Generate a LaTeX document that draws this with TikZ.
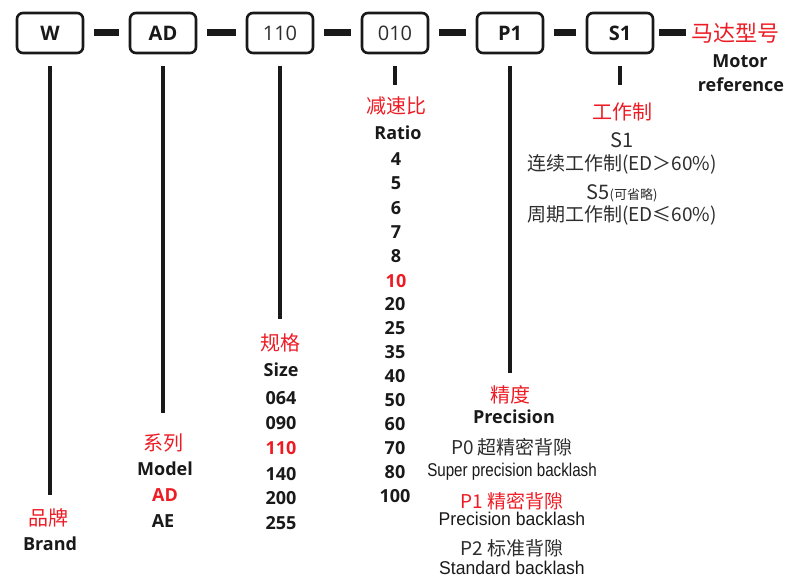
\documentclass[tikz,border=0pt]{standalone}
\usepackage{fontspec}
\setmainfont{Open Sans}
\newfontfamily\cjk{Noto Sans CJK SC}
\newfontfamily\narrow[FakeStretch=0.82]{Liberation Sans}
\newfontfamily\narrowb[FakeStretch=0.95]{Liberation Sans}
\definecolor{myred}{RGB}{237,28,36}
\definecolor{ink}{RGB}{25,25,25}
\definecolor{gr}{RGB}{45,45,45}
\begin{document}
\begin{tikzpicture}[x=1pt,y=-1pt,
  box/.style={draw=ink,line width=2.6pt,rounded corners=6pt,minimum width=66pt,minimum height=40pt,inner sep=0pt},
  bb/.style={font=\bfseries\fontsize{20}{20}\selectfont,text=ink},
  bn/.style={font=\fontsize{20}{20}\selectfont,text=gr},
  conn/.style={draw=ink,line width=7pt,shorten <=10pt,shorten >=10pt},
  vline/.style={draw=ink,line width=3.6pt},
  cn/.style={font=\cjk\fontsize{20}{20}\selectfont,text=myred,inner sep=0pt,anchor=base},
  lb/.style={font=\bfseries\fontsize{18}{18}\selectfont,text=ink,inner sep=0pt,anchor=base},
  lr/.style={lb,text=myred},
  gt/.style={font=\cjk\fontsize{19}{19}\selectfont,text=gr,inner sep=0pt,anchor=base},
  nt/.style={font=\narrow\fontsize{18.5}{18.5}\selectfont,text=ink,inner sep=0pt,anchor=base},
  ntb/.style={font=\narrowb\fontsize{18.5}{18.5}\selectfont,text=ink,inner sep=0pt,anchor=base},
  ]
\useasboundingbox (0,0) rectangle (786,578);
% boxes
\node[box,bb] (w) at (50,33) {W};
\node[box,bb] (ad) at (163,33) {AD};
\node[box,bn] (sz) at (280,33) {110};
\node[box,bn] (rt) at (395,33) {010};
\node[box,bb] (p1) at (510,33) {P1};
\node[box,bb] (s1) at (620,33) {S1};
\node[font=\cjk\fontsize{22}{22}\selectfont,text=myred,inner sep=0pt,anchor=west] (mt) at (691,33) {马达型号};
\draw[conn] (w) -- (ad);
\draw[conn] (ad) -- (sz);
\draw[conn] (sz) -- (rt);
\draw[conn] (rt) -- (p1);
\draw[conn] (p1) -- (s1);
\draw[conn,shorten >=5pt,shorten <=5pt] (s1) -- (mt);
\node[lb] (mt1) at (740,67) {Motor};
\node[lb] (mt2) at (741,91) {reference};
% brand
\node[cn] (brc) at (48,525.6) {品牌};
\node[lb] (bre) at (50,550.5) {Brand};
\draw[vline] ([yshift=-12pt]w.south) -- ([yshift=30.6pt]w.south |- brc.base);
% model
\node[cn] (moc) at (163,450.6) {系列};
\node[lb] (moe) at (165,475.5) {Model};
\node[lr] (mo1) at (165,501.5) {AD};
\node[lb] (mo2) at (163,527.5) {AE};
\draw[vline] ([yshift=-12pt]ad.south) -- ([yshift=37.6pt]ad.south |- moc.base);
% size
\node[cn] (szc) at (280,350.6) {规格};
\node[lb] (sze) at (281,376.5) {Size};
\node[lb] (s064) at (281,404.5) {064};
\node[lb] (s090) at (281,429.5) {090};
\node[lr] (s110) at (281,454.5) {110};
\node[lb] (s140) at (281,480.5) {140};
\node[lb] (s200) at (281,504.5) {200};
\node[lb] (s255) at (281,529.5) {255};
\draw[vline] ([yshift=-12pt]sz.south) -- ([yshift=31.6pt]sz.south |- szc.base);
% ratio
\node[cn] (rtc) at (396,113.6) {减速比};
\node[lb] (rte) at (398,139.5) {Ratio};
\node[lb] (r4) at (396,165.5) {4};
\node[lb] (r5) at (396,189.5) {5};
\node[lb] (r6) at (396,214.5) {6};
\node[lb] (r7) at (396,238.5) {7};
\node[lb] (r8) at (396,262.5) {8};
\node[lr] (r10) at (396,287.5) {10};
\node[lb] (r20) at (395,310.5) {20};
\node[lb] (r25) at (395,334.5) {25};
\node[lb] (r35) at (395,358.5) {35};
\node[lb] (r40) at (395,382.5) {40};
\node[lb] (r50) at (395,406.5) {50};
\node[lb] (r60) at (395,430.5) {60};
\node[lb] (r70) at (395,454.5) {70};
\node[lb] (r80) at (395,478.5) {80};
\node[lb] (r100) at (395,502.5) {100};
\draw[vline] ([yshift=-12pt]rt.south) -- ([yshift=28.6pt]rt.south |- rtc.base);
% precision
\node[cn] (prc) at (510,402.6) {精度};
\node[lb] (pre) at (514,423.5) {Precision};
\node[gt] (p0c) at (512,454) {P0 超精密背隙};
\node[nt] (p0e) at (512,476.5) {Super precision backlash};
\node[gt,text=myred] (p1c) at (512,508) {P1 精密背隙};
\node[ntb] (p1e) at (512,525.5) {Precision backlash};
\node[gt] (p2c) at (512,555) {P2 标准背隙};
\node[ntb] (p2e) at (512,574.5) {Standard backlash};
\draw[vline] ([yshift=-12pt]p1.south) -- ([yshift=29.6pt]p1.south |- prc.base);
% duty
\node[cn] (dtc) at (622,119.6) {工作制};
\node[gt,font=\cjk\fontsize{20}{20}\selectfont] (dt1) at (622,147) {S1};
\node[gt] (dt1c) at (622,170) {连续工作制(ED＞60\%)};
\node[gt,font=\cjk\fontsize{20}{20}\selectfont] (dt5) at (622,199) {S5{\fontsize{13}{13}\selectfont(可省略)}};
\node[gt] (dt5c) at (622,221) {周期工作制(ED≤60\%)};
\draw[vline] ([yshift=-12pt]s1.south) -- ([yshift=34.6pt]s1.south |- dtc.base);
\end{tikzpicture}
\end{document}
